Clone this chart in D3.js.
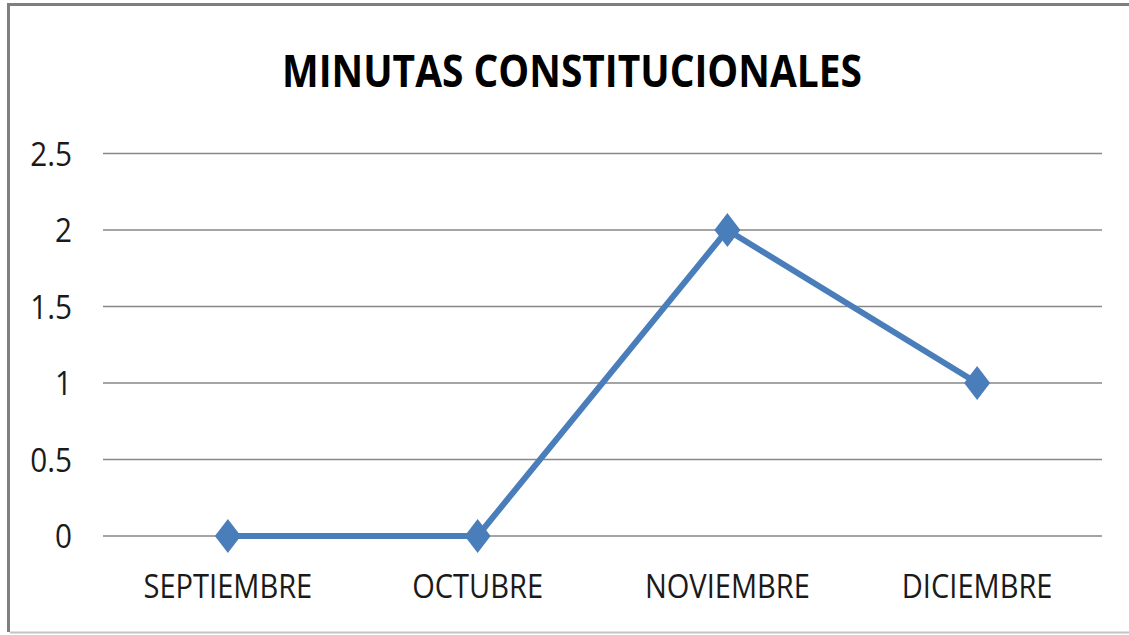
<!DOCTYPE html>
<html>
<head>
<meta charset="utf-8">
<script src="https://cdn.jsdelivr.net/npm/d3@7"></script>
<style>
  html, body { margin: 0; padding: 0; background: #ffffff; }
  svg { display: block; }
</style>
</head>
<body>
<svg id="chart" width="1129" height="635"></svg>
<script>
const title = "MINUTAS CONSTITUCIONALES";
const categories = ["SEPTIEMBRE", "OCTUBRE", "NOVIEMBRE", "DICIEMBRE"];
const values = [0, 0, 2, 1];
const yTicks = [0, 0.5, 1, 1.5, 2, 2.5];

const W = 1129, H = 635;
const svg = d3.select("#chart");
const FONT = "'Open Sans', 'Noto Sans', sans-serif";
const BLUE = "#4a7ebb";
const GRID = "#878787";

const plot = { left: 103, right: 1102, top: 153.5, bottom: 536 };

const x = d3.scaleBand().domain(categories).range([plot.left, plot.right]).padding(0);
const y = d3.scaleLinear().domain([0, 2.5]).range([plot.bottom, plot.top]);

// frame
svg.append("path")
  .attr("d", `M${W + 10},4.5 H8.5 V632`)
  .attr("fill", "none").attr("stroke", "#7f7f7f").attr("stroke-width", 3);
svg.append("line")
  .attr("x1", 10).attr("x2", W + 10).attr("y1", 632.5).attr("y2", 632.5)
  .attr("stroke", "#c4c4c4").attr("stroke-width", 2);

// gridlines
svg.append("g").selectAll("line").data(yTicks).join("line")
  .attr("x1", plot.left).attr("x2", plot.right)
  .attr("y1", d => y(d)).attr("y2", d => y(d))
  .attr("stroke", GRID).attr("stroke-width", 1.5);

// y axis labels
const yAxis = svg.append("g")
  .attr("transform", `translate(${plot.left},0)`)
  .call(d3.axisLeft(y).tickValues(yTicks).tickFormat(d3.format("")).tickSize(0).tickPadding(31));
yAxis.select(".domain").remove();
yAxis.selectAll("text")
  .attr("font-family", FONT).attr("font-size", 33).attr("fill", "#1a1a1a")
  .attr("dy", "0.36em");

// x axis labels
const xAxis = svg.append("g")
  .attr("transform", `translate(0,${plot.bottom})`)
  .call(d3.axisBottom(x).tickSize(0).tickPadding(0));
xAxis.select(".domain").remove();
xAxis.selectAll("text")
  .attr("font-family", FONT).attr("font-size", 33).attr("fill", "#1a1a1a")
  .attr("dy", null).attr("y", 62);

// compress text horizontally (narrow face look)
function compress(sel, k) {
  sel.each(function () {
    const w = this.getComputedTextLength();
    d3.select(this).attr("textLength", w * k).attr("lengthAdjust", "spacingAndGlyphs");
  });
}
compress(yAxis.selectAll("text"), 0.9);
compress(xAxis.selectAll("text"), 0.88);

// line
const line = d3.line().x((d, i) => x(categories[i]) + x.bandwidth() / 2).y(d => y(d));
svg.append("path")
  .datum(values)
  .attr("d", line)
  .attr("fill", "none").attr("stroke", BLUE).attr("stroke-width", 6)
  .attr("stroke-linejoin", "round");

// diamond markers
svg.append("g").selectAll("path").data(values).join("path")
  .attr("transform", (d, i) => `translate(${x(categories[i]) + x.bandwidth() / 2},${y(d)})`)
  .attr("d", "M0,-17 L13,0 L0,17 L-13,0 Z")
  .attr("fill", BLUE);

// title
const t = svg.append("text")
  .attr("x", 572).attr("y", 87)
  .attr("text-anchor", "middle")
  .attr("font-family", FONT).attr("font-weight", "bold").attr("font-size", 45)
  .attr("fill", "#000")
  .text(title);
t.attr("textLength", 580).attr("lengthAdjust", "spacingAndGlyphs");
</script>
</body>
</html>
